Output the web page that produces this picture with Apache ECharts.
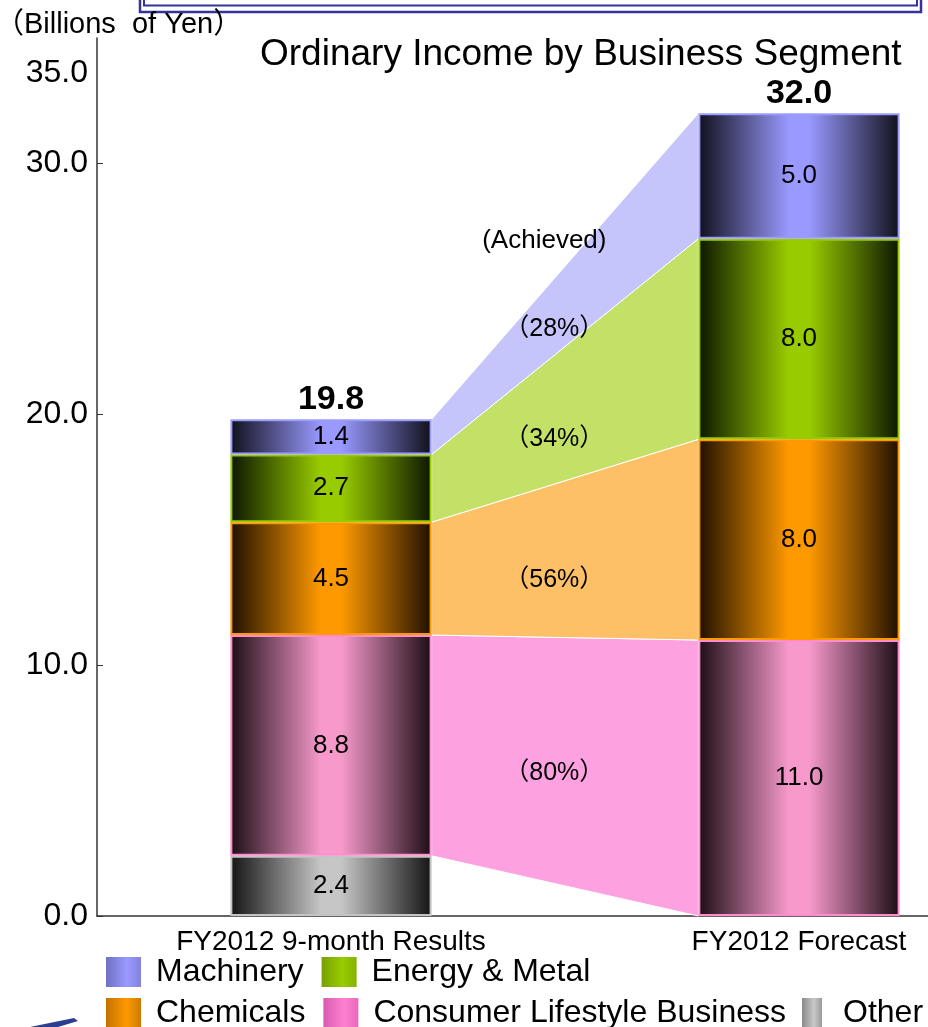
<!DOCTYPE html>
<html><head><meta charset="utf-8">
<script src="https://cdn.jsdelivr.net/npm/echarts@6/dist/echarts.min.js"></script>
<style>html,body{margin:0;padding:0;background:#fff}#c{width:928px;height:1027px}</style>
</head><body><div id="c"></div>
<script>
// ---- data ----
const categories = ['FY2012 9-month Results', 'FY2012 Forecast'];
const other = [2.4, null];
const consumer = [8.8, 11.0];
const chemicals = [4.5, 8.0];
const energy = [2.7, 8.0];
const machinery = [1.4, 5.0];
const yLabelValues = [0, 10, 20, 30, 35];
const yTickValues = [0, 10, 20, 30];
// vertical position (in axis units) of the "achievement" labels in each band
const bandLabelAt = { 'Machinery': 23.4, 'Energy & Metal': 19.0, 'Chemicals': 13.4, 'Consumer Lifestyle Business': 5.7 };
const achievedLabelAt = 26.9;

// ---- styles ----
const FONT = '"Liberation Sans", Arial, "Noto Sans CJK JP", sans-serif';
const BAR_RATIO = 0.43;
const segs = [
  { name: 'Other', data: other, bright: '#c6c6c6', dark: '#141414', border: '#c4c4c4', band: null },
  { name: 'Consumer Lifestyle Business', data: consumer, bright: '#f79acb', dark: '#1c0d15', border: '#ff8ccc', band: '#fda1e0' },
  { name: 'Chemicals', data: chemicals, bright: '#ff9900', dark: '#1e0f00', border: '#ff9900', band: '#fdc067' },
  { name: 'Energy & Metal', data: energy, bright: '#99cc00', dark: '#0c1600', border: '#99cc00', band: '#c3e167' },
  { name: 'Machinery', data: machinery, bright: '#9999ff', dark: '#10101c', border: '#9c9cff', band: '#c5c5fc' }
];
const legendLight = {
  'Machinery': ['#7070c4', '#9a9aff', '#8383dc'],
  'Energy & Metal': ['#78a000', '#99cc00', '#86b200'],
  'Chemicals': ['#c47200', '#ff9900', '#cc7a00'],
  'Consumer Lifestyle Business': ['#d85cb0', '#ff80d0', '#e868bc'],
  'Other': ['#8a8a8a', '#c8c8c8', '#9a9a9a']
};

function barGrad(dark, bright) {
  return new echarts.graphic.LinearGradient(0, 0, 1, 0, [
    { offset: 0, color: dark }, { offset: 0.45, color: bright },
    { offset: 0.55, color: bright }, { offset: 1, color: dark }]);
}
function legGrad(name) {
  const c = legendLight[name];
  return new echarts.graphic.LinearGradient(0, 0, 1, 0, [
    { offset: 0, color: c[0] }, { offset: 0.6, color: c[1] }, { offset: 1, color: c[2] }]);
}
function below(i, c) { let s = 0; for (let k = 0; k < i; k++) s += segs[k].data[c] || 0; return s; }

const totals = categories.map((_, c) => below(segs.length, c));

// bands connecting segments of the two bars
const bands = [];
segs.forEach((s, i) => {
  if (!s.band) return;
  const l0 = below(i, 0), r0 = below(i, 1);
  bands.push({
    value: [0, l0, l0 + s.data[0], r0, r0 + s.data[1]],
    color: s.band,
    pct: Math.round(s.data[0] / s.data[1] * 100),
    labelAt: bandLabelAt[s.name],
    name: s.name
  });
});

const chart = echarts.init(document.getElementById('c'), null, { renderer: 'canvas' });

const barSeries = segs.map(s => ({
  name: s.name, type: 'bar', stack: 'total', data: s.data,
  barWidth: (BAR_RATIO * 100) + '%', z: 3,
  itemStyle: { color: barGrad(s.dark, s.bright), borderColor: s.border, borderWidth: 2 },
  label: { show: true, position: 'inside', fontSize: 26, color: '#000', fontFamily: FONT,
    formatter: p => (p.value == null ? '' : Number(p.value).toFixed(1)) },
  emphasis: { disabled: true }
}));

const bandSeries = {
  type: 'custom', name: 'bands', z: 1, silent: true,
  encode: { x: 0, y: [1, 2, 3, 4] },
  data: bands.map(b => b.value),
  renderItem(params, api) {
    const b = bands[params.dataIndex];
    const half = api.size([1, 0])[0] * BAR_RATIO / 2;
    const L0 = api.coord([0, api.value(1)]), L1 = api.coord([0, api.value(2)]);
    const R0 = api.coord([1, api.value(3)]), R1 = api.coord([1, api.value(4)]);
    const xl = L0[0] + half, xr = R0[0] - half;
    const lx = xl + (xr - xl) * 0.46;
    const children = [{
      type: 'polygon',
      shape: { points: [[xl, L0[1]], [xl, L1[1]], [xr, R1[1]], [xr, R0[1]]] },
      style: { fill: b.color, stroke: '#ffffff', lineWidth: 1 }
    }, {
      type: 'text', x: lx, y: api.coord([0, b.labelAt])[1], z2: 10,
      style: { text: '（' + b.pct + '%）', fill: '#000', font: '25px ' + FONT, align: 'center', verticalAlign: 'middle' }
    }];
    if (b.name === 'Machinery') {
      children.push({
        type: 'text', x: lx - 10, y: api.coord([0, achievedLabelAt])[1], z2: 10,
        style: { text: '(Achieved)', fill: '#000', font: '26px ' + FONT, align: 'center', verticalAlign: 'middle' }
      });
    }
    return { type: 'group', children };
  }
};

const totalSeries = {
  type: 'custom', name: 'totals', z: 5, silent: true,
  encode: { x: 0, y: 1 },
  data: totals.map((t, c) => [c, t]),
  renderItem(params, api) {
    const p = api.coord([api.value(0), api.value(1)]);
    return { type: 'text', x: p[0], y: p[1] - 20,
      style: { text: api.value(1).toFixed(1), fill: '#000', font: 'bold 34px ' + FONT, align: 'center', verticalAlign: 'middle' } };
  }
};

const legendBase = {
  orient: 'horizontal', padding: 0, icon: 'rect', itemWidth: 35, itemHeight: 30, itemGap: 18,
  selectedMode: false,
  textStyle: { fontSize: 32, color: '#000', fontFamily: FONT, padding: [0, 0, 0, 10] }
};
const legItem = n => ({ name: n, itemStyle: { color: legGrad(n), borderWidth: 0 } });

chart.setOption({
  animation: false,
  backgroundColor: '#ffffff',
  textStyle: { fontFamily: FONT },
  grid: { left: 97, top: 38, bottom: 111, right: -105, containLabel: false, outerBoundsMode: 'none' },
  xAxis: {
    type: 'category', data: categories, boundaryGap: true,
    axisLine: { lineStyle: { color: '#333', width: 1.5 } },
    axisTick: { inside: true, length: 7, lineStyle: { color: '#333' } },
    axisLabel: { fontSize: 28, color: '#000', margin: 12, fontFamily: FONT }
  },
  yAxis: {
    type: 'value', min: 0, max: 35,
    splitLine: { show: false },
    axisLine: { show: true, lineStyle: { color: '#333', width: 1.5 } },
    axisTick: { show: true, inside: true, length: 6, customValues: yTickValues, lineStyle: { color: '#333' } },
    axisLabel: {
      customValues: yLabelValues, fontSize: 32, color: '#000', margin: 9, fontFamily: FONT,
      formatter: v => (v === 35 ? '{top|' + v.toFixed(1) + '}' : v.toFixed(1)),
      rich: { top: { fontSize: 32, color: '#000', fontFamily: FONT, padding: [70, 0, 0, 0] } }
    }
  },
  legend: [
    Object.assign({}, legendBase, { left: 106, top: 956, data: ['Machinery', 'Energy & Metal'].map(legItem) }),
    Object.assign({}, legendBase, { left: 106, top: 997, data: ['Chemicals', 'Consumer Lifestyle Business'].map(legItem) }),
    Object.assign({}, legendBase, { left: 802, top: 997, itemWidth: 20, textStyle: Object.assign({}, legendBase.textStyle, { padding: [0, 0, 0, 16] }), data: ['Other'].map(legItem) })
  ],
  graphic: [
    { type: 'rect', shape: { x: 140, y: -30, width: 781, height: 42 }, style: { fill: 'none', stroke: '#33339a', lineWidth: 2.5 }, silent: true },
    { type: 'rect', shape: { x: 144, y: -30, width: 773, height: 35.5 }, style: { fill: 'none', stroke: '#33339a', lineWidth: 2 }, silent: true },
    { type: 'text', x: -5, y: 25, style: { text: '（Billions  of Yen）', fill: '#000', font: '29px ' + FONT, verticalAlign: 'middle' }, silent: true },
    { type: 'text', x: 260, y: 55, style: { text: 'Ordinary Income by Business Segment', fill: '#000', font: '37px ' + FONT, verticalAlign: 'middle' }, silent: true },
    { type: 'polygon', shape: { points: [[30, 1027], [74, 1018], [78, 1021], [58, 1027]] }, style: { fill: '#2a3f8f' }, silent: true }
  ],
  series: [bandSeries].concat(barSeries).concat([totalSeries])
});
</script>
</body></html>
